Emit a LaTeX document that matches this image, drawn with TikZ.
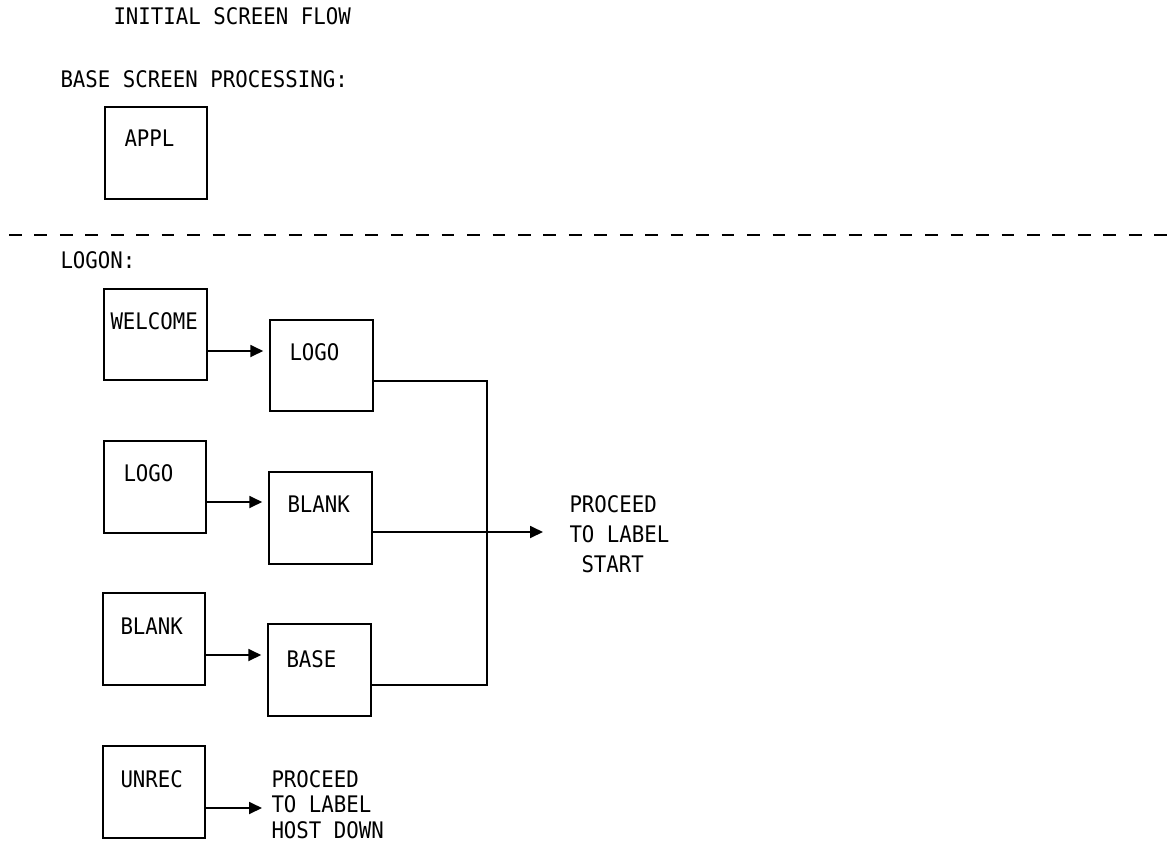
\documentclass[tikz,border=0pt]{standalone}
\usepackage{fontspec}
\newfontfamily\ibmfont[FakeStretch=0.91]{DejaVu Sans Mono}
\usetikzlibrary{arrows.meta}
\begin{document}
\begin{tikzpicture}[x=1pt,y=-1pt,
  every node/.style={inner sep=0pt,outer sep=0pt},
  txt/.style={anchor=base west,font=\ibmfont\fontsize{22.8}{25}\selectfont},
  scrbox/.style={draw,line width=1.8pt,minimum width=102.5pt,minimum height=91.5pt},
  conn/.style={line width=1.8pt},
  arr/.style={line width=1.8pt,-{Triangle[length=13pt,width=12pt]}}]
\useasboundingbox (0,0) rectangle (1175,851);
\fill[white] (0,0) rectangle (1175,851);

% headings
\node[txt] (title) at (113.5,25) {INITIAL SCREEN FLOW};
\node[txt] (bsp) at (60.5,87) {BASE SCREEN PROCESSING:};
\node[txt] (logon) at (60.5,268) {LOGON:};

% base screen
\node[scrbox] (appl) at (156,153) {};
\node[txt] (tappl) at (124.5,146) {APPL};

% separator
\draw[line width=1.8pt,dash pattern=on 12.7pt off 12.75pt] (9,235) -- (1170,235);

% boxes
\node[scrbox] (wel) at (155.5,334.5) {};
\node[scrbox] (logoR) at (321.5,365.5) {};
\node[scrbox] (logoL) at (155,487) {};
\node[scrbox] (blankR) at (320.5,518) {};
\node[scrbox] (blankL) at (154,639) {};
\node[scrbox] (base) at (319.5,670) {};
\node[scrbox] (unrec) at (154,792) {};

% box texts
\node[txt] (twel) at (110.5,329) {WELCOME};
\node[txt] (tlogoR) at (289.5,360) {LOGO};
\node[txt] (tlogoL) at (123.5,481) {LOGO};
\node[txt] (tblankR) at (287.5,512) {BLANK};
\node[txt] (tblankL) at (120.5,634) {BLANK};
\node[txt] (tbase) at (286.5,667) {BASE};
\node[txt] (tunrec) at (120.5,787) {UNREC};

% proceed texts
\node[txt] (pa1) at (569.5,512) {PROCEED};
\node[txt] (pa2) at (569.5,542.5) {TO LABEL};
\node[txt] (pa3) at (581.5,572.5) {START};
\node[txt] (pb1) at (271.5,787) {PROCEED};
\node[txt] (pb2) at (271.5,812.5) {TO LABEL};
\node[txt] (pb3) at (271.5,838) {HOST DOWN};

% connector ends
\coordinate (jtop) at (487,381);
\coordinate (jbot) at (487,685);
\coordinate (endA) at (543,532);
\coordinate (endB) at (262,808);

% arrows between boxes
\draw[arr,shorten >=7pt] (wel.east |- 0,351) -- (logoR.west |- 0,351);
\draw[arr,shorten >=7pt] (logoL.east |- 0,502) -- (blankR.west |- 0,502);
\draw[arr,shorten >=7pt] (blankL.east |- 0,655) -- (base.west |- 0,655);
\draw[arr] (unrec.east |- endB) -- (endB);

% collector
\draw[conn] (logoR.east |- jtop) -- (jtop) -- (jbot) -- (base.east |- jbot);
\draw[arr] (blankR.east |- endA) -- (endA);
\end{tikzpicture}
\end{document}
